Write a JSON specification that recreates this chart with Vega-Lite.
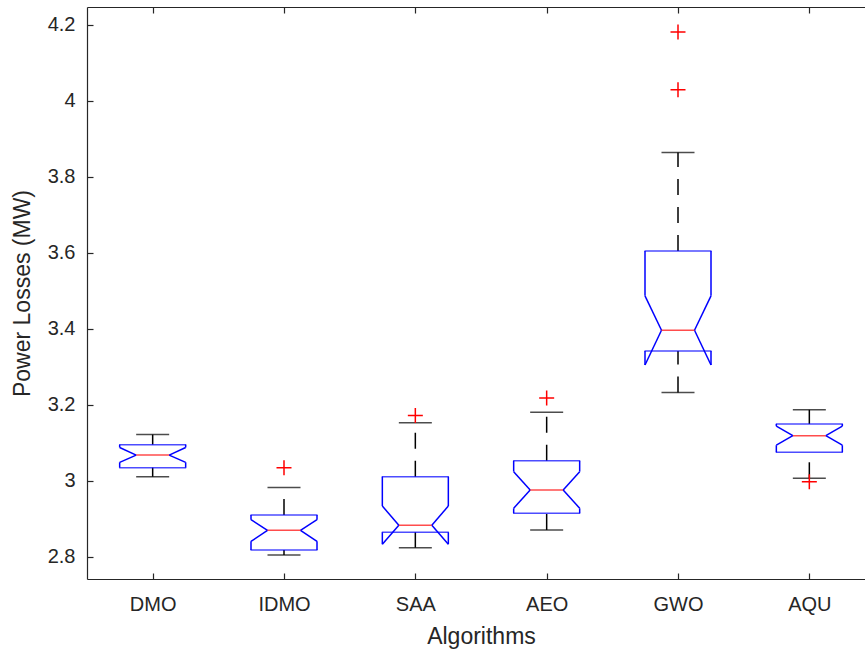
{
  "$schema": "https://vega.github.io/schema/vega-lite/v6.json",
  "width": 778,
  "height": 572,
  "autosize": {"type": "none"},
  "padding": {"left": 87, "top": 7, "right": 0, "bottom": 76},
  "background": "white",
  "config": {
    "view": {"stroke": null},
    "font": "Liberation Sans",
    "axis": {
      "domainColor": "#262626",
      "tickColor": "#262626",
      "labelColor": "#262626",
      "titleColor": "#262626",
      "labelFont": "Liberation Sans",
      "titleFont": "Liberation Sans",
      "labelFontSize": 20,
      "titleFontSize": 23,
      "titleFontWeight": "normal",
      "grid": false,
      "tickSize": -6,
      "domainWidth": 1.2,
      "tickWidth": 1.2
    }
  },
  "datasets": {
    "stats": [
      {"alg": "DMO", "wlo": 3.011, "q1": 3.035, "nlo": 3.049, "med": 3.068, "nhi": 3.088, "q3": 3.0955, "whi": 3.122},
      {"alg": "IDMO", "wlo": 2.805, "q1": 2.818, "nlo": 2.841, "med": 2.870, "nhi": 2.898, "q3": 2.9105, "whi": 2.983},
      {"alg": "SAA", "wlo": 2.8245, "q1": 2.865, "nlo": 2.8334, "med": 2.8834, "nhi": 2.934, "q3": 3.0113, "whi": 3.153},
      {"alg": "AEO", "wlo": 2.871, "q1": 2.915, "nlo": 2.928, "med": 2.976, "nhi": 3.0245, "q3": 3.053, "whi": 3.181},
      {"alg": "GWO", "wlo": 3.233, "q1": 3.342, "nlo": 3.305, "med": 3.3965, "nhi": 3.487, "q3": 3.605, "whi": 3.864},
      {"alg": "AQU", "wlo": 3.007, "q1": 3.0755, "nlo": 3.094, "med": 3.119, "nhi": 3.144, "q3": 3.150, "whi": 3.187}
    ],
    "outliers": [
      {"alg": "IDMO", "value": 3.035},
      {"alg": "SAA", "value": 3.172},
      {"alg": "AEO", "value": 3.218},
      {"alg": "GWO", "value": 4.181},
      {"alg": "GWO", "value": 4.029},
      {"alg": "AQU", "value": 2.998}
    ]
  },
  "data": {"name": "stats"},
  "encoding": {
    "x": {
      "field": "alg",
      "type": "nominal",
      "sort": ["DMO", "IDMO", "SAA", "AEO", "GWO", "AQU"],
      "scale": {"type": "point", "padding": 0.5, "range": [0, 788]},
      "axis": null
    }
  },
  "resolve": {"axis": {"x": "independent", "y": "independent"}},
  "layer": [
    {
      "mark": {"type": "rule", "color": "#000000", "strokeWidth": 1.5, "strokeDash": [16, 12]},
      "encoding": {
        "x": {
          "field": "alg",
          "type": "nominal",
          "sort": ["DMO", "IDMO", "SAA", "AEO", "GWO", "AQU"],
          "scale": {"type": "point", "padding": 0.5, "range": [0, 788]},
          "axis": {"orient": "bottom", "title": "Algorithms", "labelAngle": 0, "labelPadding": 21, "titlePadding": 11}
        },
        "y": {
          "field": "q3",
          "type": "quantitative",
          "scale": {"domain": [2.742, 4.247], "nice": false, "zero": false},
          "axis": {"orient": "left", "title": "Power Losses (MW)", "values": [2.8, 3, 3.2, 3.4, 3.6, 3.8, 4, 4.2], "format": "~g", "labelPadding": 18, "titlePadding": 13}
        },
        "y2": {"field": "whi"}
      }
    },
    {
      "mark": {"type": "rule", "color": "#000000", "strokeWidth": 1.5, "strokeDash": [16, 12]},
      "encoding": {
        "y": {"field": "wlo", "type": "quantitative", "scale": {"domain": [2.742, 4.247], "nice": false, "zero": false}, "axis": null},
        "y2": {"field": "q1"}
      }
    },
    {
      "mark": {"type": "tick", "color": "#000000", "size": 33, "thickness": 1.5},
      "encoding": {
        "y": {"field": "whi", "type": "quantitative", "axis": null}
      }
    },
    {
      "mark": {"type": "tick", "color": "#000000", "size": 33, "thickness": 1.5},
      "encoding": {
        "y": {"field": "wlo", "type": "quantitative", "axis": null}
      }
    },
    {
      "mark": {"type": "tick", "color": "#0000FF", "size": 67, "thickness": 1.5},
      "encoding": {
        "x": {
          "field": "alg",
          "type": "nominal",
          "sort": ["DMO", "IDMO", "SAA", "AEO", "GWO", "AQU"],
          "scale": {"type": "point", "padding": 0.5, "range": [0, 788]},
          "axis": {"orient": "top", "labels": false, "title": null, "domain": true}
        },
        "y": {"field": "q3", "type": "quantitative", "axis": null}
      }
    },
    {
      "mark": {"type": "tick", "color": "#0000FF", "size": 67, "thickness": 1.5},
      "encoding": {
        "y": {"field": "q1", "type": "quantitative", "axis": null}
      }
    },
    {
      "mark": {"type": "rule", "color": "#0000FF", "strokeWidth": 1.5, "xOffset": -33},
      "encoding": {
        "y": {"field": "q3", "type": "quantitative", "axis": null},
        "y2": {"field": "nhi"}
      }
    },
    {
      "mark": {"type": "rule", "color": "#0000FF", "strokeWidth": 1.5, "xOffset": 33},
      "encoding": {
        "y": {"field": "q3", "type": "quantitative", "axis": null},
        "y2": {"field": "nhi"}
      }
    },
    {
      "mark": {"type": "rule", "color": "#0000FF", "strokeWidth": 1.5, "xOffset": -33},
      "encoding": {
        "y": {"field": "q1", "type": "quantitative", "axis": null},
        "y2": {"field": "nlo"}
      }
    },
    {
      "mark": {"type": "rule", "color": "#0000FF", "strokeWidth": 1.5, "xOffset": 33},
      "encoding": {
        "y": {"field": "q1", "type": "quantitative", "axis": null},
        "y2": {"field": "nlo"}
      }
    },
    {
      "mark": {"type": "rule", "color": "#0000FF", "strokeWidth": 1.5, "xOffset": -33, "x2Offset": -16.5},
      "encoding": {
        "x2": {"field": "alg"},
        "y": {"field": "nhi", "type": "quantitative", "axis": null},
        "y2": {"field": "med"}
      }
    },
    {
      "mark": {"type": "rule", "color": "#0000FF", "strokeWidth": 1.5, "xOffset": 33, "x2Offset": 16.5},
      "encoding": {
        "x2": {"field": "alg"},
        "y": {"field": "nhi", "type": "quantitative", "axis": null},
        "y2": {"field": "med"}
      }
    },
    {
      "mark": {"type": "rule", "color": "#0000FF", "strokeWidth": 1.5, "xOffset": -33, "x2Offset": -16.5},
      "encoding": {
        "x2": {"field": "alg"},
        "y": {"field": "nlo", "type": "quantitative", "axis": null},
        "y2": {"field": "med"}
      }
    },
    {
      "mark": {"type": "rule", "color": "#0000FF", "strokeWidth": 1.5, "xOffset": 33, "x2Offset": 16.5},
      "encoding": {
        "x2": {"field": "alg"},
        "y": {"field": "nlo", "type": "quantitative", "axis": null},
        "y2": {"field": "med"}
      }
    },
    {
      "mark": {"type": "tick", "color": "#FF0000", "size": 33, "thickness": 1.5},
      "encoding": {
        "y": {"field": "med", "type": "quantitative", "axis": null}
      }
    },
    {
      "data": {"name": "outliers"},
      "mark": {"type": "point", "shape": "M-1,0H1M0,-1V1", "filled": false, "stroke": "#FF0000", "strokeWidth": 1.5, "size": 225, "opacity": 1},
      "encoding": {
        "y": {"field": "value", "type": "quantitative", "axis": null}
      }
    }
  ]
}
